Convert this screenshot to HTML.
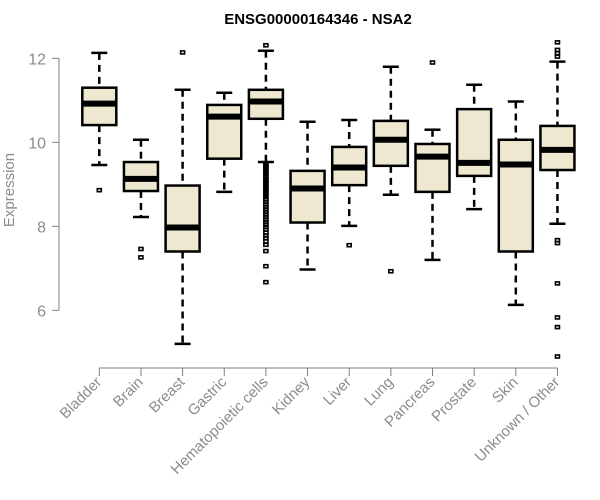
<!DOCTYPE html>
<html><head><meta charset="utf-8"><style>
body{margin:0;background:#fff;}
svg{display:block;font-family:"Liberation Sans",Arial,sans-serif;}
</style></head><body>
<svg id="chart" width="600" height="500" viewBox="0 0 600 500">
<text x="318" y="24" text-anchor="middle" font-size="15" font-weight="bold">ENSG00000164346 - NSA2</text>
<text transform="translate(14,190) rotate(-90)" text-anchor="middle" font-size="15" fill="#8c8c8c">Expression</text>
<g id="plot"></g>
</svg>
<script>
const categories=["Bladder","Brain","Breast","Gastric","Hematopoietic cells","Kidney","Liver","Lung","Pancreas","Prostate","Skin","Unknown / Other"];
const whiskerLow=[9.46,8.22,5.20,8.82,9.53,6.97,8.01,8.75,7.20,8.41,6.13,8.06];
const q1=[10.41,8.84,7.40,9.61,10.56,8.09,8.98,9.44,8.82,9.20,7.40,9.34];
const medians=[10.92,9.13,7.97,10.61,10.97,8.90,9.40,10.06,9.66,9.51,9.47,9.82];
const q3=[11.30,9.53,8.97,10.89,11.25,9.32,9.89,10.51,9.96,10.79,10.06,10.39];
const whiskerHigh=[12.13,10.06,11.25,11.18,12.18,10.49,10.53,11.80,10.30,11.37,10.97,11.92];
const outliers=[[8.86],[7.46,7.26],[12.14],[],
[12.31,9.48,9.44,9.4,9.35,9.3,9.25,9.2,9.14,9.1,9.04,9.0,8.94,8.9,8.84,8.8,8.74,8.7,8.64,8.58,8.52,8.46,8.4,8.34,8.28,8.22,8.16,8.1,8.04,7.98,7.92,7.85,7.78,7.72,7.64,7.56,7.41,7.05,6.67],
[],[7.55],[6.93],[11.90],[],[],
[12.38,12.2,12.12,12.04,7.67,7.60,6.64,5.83,5.60,4.90]];
const yTicks=[6,8,10,12];
const NS="http://www.w3.org/2000/svg";
const g=document.getElementById('plot');
function y(v){return 58.3+(12-v)*42;}
function x(i){return 99.3+i*41.65;}
function mk(t,a){const e=document.createElementNS(NS,t);for(const k in a)e.setAttribute(k,a[k]);g.appendChild(e);return e;}
let ax=mk('line',{x1:59,x2:59,y1:y(12),y2:y(6),stroke:'#808080','stroke-width':1});


yTicks.forEach(t=>{
 const l=mk('line',{x1:52,x2:59,y1:y(t),y2:y(t),stroke:'#808080'});
 
 
 const tx=mk('text',{x:46,y:y(t)+6,'text-anchor':'end','font-size':16,fill:'#8c8c8c'});
 tx.textContent=t;
 
 
});
let xa=mk('line',{x1:x(0),x2:x(categories.length-1),y1:368,y2:368,stroke:'#808080'});


categories.forEach((c,i)=>{
 const cx=x(i),w=17,cap=8;
 const t=mk('line',{x1:cx,x2:cx,y1:368,y2:376,stroke:'#808080'});
 
 
 const lb=mk('text',{transform:`translate(${cx+3},${383}) rotate(-45)`,'text-anchor':'end','font-size':15,fill:'#8c8c8c'});
 lb.textContent=c;
 
 
 const grp=document.createElementNS(NS,'g');g.appendChild(grp);
 
 
 function ad(tn,a){const e=document.createElementNS(NS,tn);for(const k in a)e.setAttribute(k,a[k]);grp.appendChild(e);return e;}
 ad('line',{x1:cx,x2:cx,y1:y(whiskerHigh[i]),y2:y(q3[i]),stroke:'#000','stroke-width':2.5,'stroke-dasharray':'7,5'});
 ad('line',{x1:cx,x2:cx,y1:y(q1[i]),y2:y(whiskerLow[i]),stroke:'#000','stroke-width':2.5,'stroke-dasharray':'7,5'});
 ad('line',{x1:cx-cap,x2:cx+cap,y1:y(whiskerHigh[i]),y2:y(whiskerHigh[i]),stroke:'#000','stroke-width':2.5});
 ad('line',{x1:cx-cap,x2:cx+cap,y1:y(whiskerLow[i]),y2:y(whiskerLow[i]),stroke:'#000','stroke-width':2.5});
 ad('rect',{x:cx-w,y:y(q3[i]),width:2*w,height:y(q1[i])-y(q3[i]),fill:'#ede8cf',stroke:'#000','stroke-width':2.5});
 ad('line',{x1:cx-w,x2:cx+w,y1:y(medians[i]),y2:y(medians[i]),stroke:'#000','stroke-width':6});
 outliers[i].forEach(o=>{
  const r=ad('rect',{x:cx-2,y:y(o)-1.5,width:4,height:3,fill:'none',stroke:'#000','stroke-width':1.6});
  
  
 });
});
</script>
</body></html>
